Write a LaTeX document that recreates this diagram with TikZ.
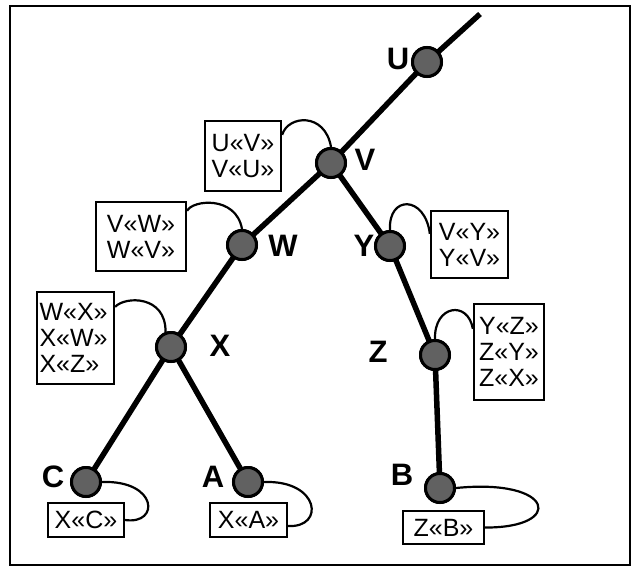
\documentclass[tikz,border=0pt]{standalone}
\usepackage{fontspec}
\setmainfont{Liberation Sans}
\begin{document}
\begin{tikzpicture}[x=1pt,y=-1pt,
  vert/.style={circle, draw=black, line width=3pt, fill=black!62, minimum size=29pt, inner sep=0pt},
  lbl/.style={font=\bfseries\fontsize{31}{31}\selectfont, inner sep=0pt},
  tbox/.style={draw, line width=2.3pt, font=\fontsize{25}{26}\selectfont, align=left, inner sep=0pt},
  edge/.style={line width=5.5pt},
  lp/.style={line width=2.2pt}]
\useasboundingbox (0,0) rectangle (636,568);
\draw[line width=2.8pt] (10,6) rectangle (630,565);

% tree vertices
\coordinate (top) at (480,14);
\node[vert] (U) at (427,62) {};
\node[vert] (V) at (331,163) {};
\node[vert] (W) at (242,245) {};
\node[vert] (Y) at (390,246) {};
\node[vert] (X) at (171,347) {};
\node[vert] (Z) at (435,355) {};
\node[vert] (C) at (86,482) {};
\node[vert] (A) at (248,482) {};
\node[vert] (B) at (440,488) {};

% boxes
\node[tbox, minimum width=76pt, minimum height=70pt] (bUV) at (243,156) {U«V»\\V«U»};
\node[tbox, minimum width=90pt, minimum height=69pt] (bVW) at (141,236.5) {V«W»\\W«V»};
\node[tbox, minimum width=77pt, minimum height=67pt] (bVY) at (469.5,244.5) {V«Y»\\Y«V»};
\node[tbox, minimum width=77pt, minimum height=92pt, text width=72pt] (bWX) at (75.5,338) {W«X»\\X«W»\\X«Z»};
\node[tbox, minimum width=70pt, minimum height=96pt] (bYZ) at (509,352) {Y«Z»\\Z«Y»\\Z«X»};
\node[tbox, minimum width=76pt, minimum height=34pt] (bXC) at (86,520) {X«C»};
\node[tbox, minimum width=77pt, minimum height=34pt] (bXA) at (248.5,520) {X«A»};
\node[tbox, minimum width=81pt, minimum height=33pt] (bZB) at (443.5,527.5) {Z«B»};

% edges
\draw[edge] (top) -- (U.center);
\draw[edge] (U.center) -- (V.center);
\draw[edge] (V.center) -- (W.center);
\draw[edge] (V.center) -- (Y.center);
\draw[edge] (W.center) -- (X.center);
\draw[edge] (Y.center) -- (Z.center);
\draw[edge] (Z.center) -- (B.center);
\draw[edge] (X.center) -- (C.center);
\draw[edge] (X.center) -- (A.center);

% loops
\draw[lp] ([yshift=-15pt]bUV.north east) .. controls (288,115) and (325,112) .. (V.north);
\draw[lp] ([yshift=-10pt]bVW.north east) .. controls (192,200) and (236,195) .. (W.north);
\draw[lp] (Y.north) .. controls (388,195) and (425,195) .. ([yshift=-24pt]bVY.north west);
\draw[lp] ([yshift=-16pt]bWX.north east) .. controls (125,296) and (166,295) .. (X.110);
\draw[lp] (Z.north) .. controls (434,305) and (468,300) .. ([yshift=-26pt]bYZ.north west);
\draw[lp] (C.east) .. controls (158,480) and (160,525) .. (bXC.east);
\draw[lp] (A.east) .. controls (320,480) and (325,528) .. ([yshift=-6pt]bXA.east);
\draw[lp] (B.east) .. controls (555,478) and (565,528) .. (bZB.east);

% redraw vertices on top
\foreach \n in {U,V,W,Y,X,Z,C,A,B}{
  \node[vert] at (\n) {};
}

% labels
\node[lbl] (lU) at (398,59) {U};
\node[lbl] (lV) at (365,160) {V};
\node[lbl] (lW) at (283,246) {W};
\node[lbl] (lY) at (364,246) {Y};
\node[lbl] (lX) at (220,346) {X};
\node[lbl] (lZ) at (378,352) {Z};
\node[lbl] (lC) at (53,477) {C};
\node[lbl] (lA) at (213,477) {A};
\node[lbl] (lB) at (402,475) {B};
\end{tikzpicture}
\end{document}
